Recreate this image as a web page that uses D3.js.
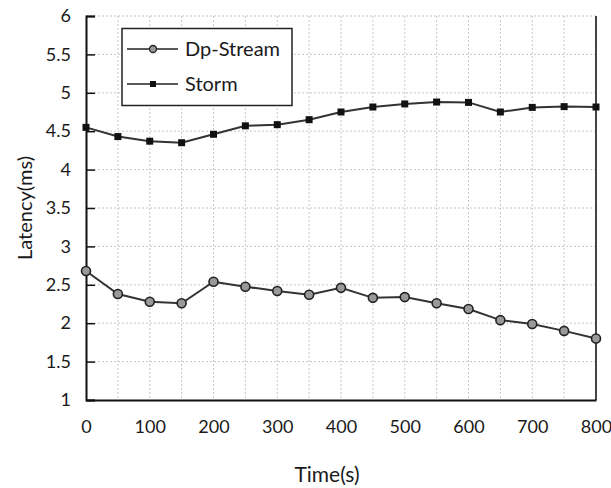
<!DOCTYPE html>
<html><head><meta charset="utf-8">
<script src="https://cdn.jsdelivr.net/npm/d3@7"></script>
<style>body{margin:0;background:#fff}svg{display:block}text{font-family:Lato,"Open Sans",sans-serif;fill:#1a1a1a}</style>
</head><body>
<script>
const times = [0,50,100,150,200,250,300,350,400,450,500,550,600,650,700,750,800];
const dpStream = [2.68,2.38,2.28,2.26,2.54,2.475,2.42,2.37,2.46,2.33,2.34,2.26,2.185,2.04,1.99,1.90,1.80];
const storm = [4.55,4.43,4.37,4.35,4.46,4.57,4.585,4.65,4.75,4.815,4.855,4.88,4.875,4.75,4.81,4.82,4.815];
const xTicks = [0,100,200,300,400,500,600,700,800];
const yTicks = [1,1.5,2,2.5,3,3.5,4,4.5,5,5.5,6];
const seriesNames = ["Dp-Stream","Storm"];

const W=611,H=488, L=86,R=596,T=16,B=400;
const svg=d3.select("body").append("svg").attr("width",W).attr("height",H);
const x=d3.scaleLinear().domain([0,800]).range([L,R]);
const y=d3.scaleLinear().domain([1,6]).range([B,T]);

// grid
const gx=d3.range(0,801,50), gy=d3.range(1,6.01,0.5);
svg.append("g").selectAll("line").data(gx.slice(1)).join("line")
 .attr("x1",d=>x(d)).attr("x2",d=>x(d)).attr("y1",T).attr("y2",B)
 .attr("stroke","#c8c8c8").attr("stroke-dasharray","2,2");
svg.append("g").selectAll("line").data(gy.slice(1)).join("line")
 .attr("x1",L).attr("x2",R).attr("y1",d=>y(d)).attr("y2",d=>y(d))
 .attr("stroke","#c8c8c8").attr("stroke-dasharray","2,2");

// right border
svg.append("line").attr("x1",R).attr("x2",R).attr("y1",T).attr("y2",B).attr("stroke","#444").attr("stroke-width",2);

// axes
const yAxis=d3.axisLeft(y).tickValues(yTicks).tickSize(-9).tickPadding(15).tickFormat(d3.format("~g"));
const gyA=svg.append("g").attr("transform",`translate(${L},0)`).call(yAxis);
gyA.select(".domain").attr("stroke","#111").attr("stroke-width",2);
gyA.selectAll(".tick line").attr("stroke","#111").attr("stroke-width",1.5);
gyA.selectAll(".tick text").style("font-size","18px").attr("fill","#1a1a1a");

const xAxis=d3.axisBottom(x).tickValues(xTicks).tickSize(0).tickPadding(20);
const gxA=svg.append("g").attr("transform",`translate(0,${B})`).call(xAxis);
gxA.select(".domain").attr("stroke","#111").attr("stroke-width",2);
gxA.selectAll(".tick text").style("font-size","18px").attr("fill","#1a1a1a");

// titles
svg.append("text").attr("x",327).attr("y",482).attr("text-anchor","middle").style("font-size","21px").text("Time(s)");
svg.append("text").attr("transform",`translate(32,${(T+B)/2}) rotate(-90)`).attr("text-anchor","middle").style("font-size","20px").text("Latency(ms)");

// lines
const line=d3.line().x((d,i)=>x(times[i])).y(d=>y(d));
[dpStream,storm].forEach(s=>{
 svg.append("path").datum(s).attr("d",line).attr("fill","none").attr("stroke","#333").attr("stroke-width",2);
});
svg.append("g").selectAll("circle").data(dpStream).join("circle")
 .attr("cx",(d,i)=>x(times[i])).attr("cy",d=>y(d)).attr("r",4.5)
 .attr("fill","#999").attr("stroke","#222").attr("stroke-width",1.6);
svg.append("g").selectAll("rect").data(storm).join("rect")
 .attr("x",(d,i)=>x(times[i])-3.5).attr("y",d=>y(d)-3.5).attr("width",7).attr("height",7)
 .attr("fill","#111");

// legend
const lg=svg.append("g");
lg.append("rect").attr("x",122).attr("y",28.5).attr("width",170).attr("height",77).attr("fill","#fff").attr("stroke","#222").attr("stroke-width",1.5);
const rows=[49,84];
seriesNames.forEach((n,i)=>{
 lg.append("line").attr("x1",127).attr("x2",178).attr("y1",rows[i]).attr("y2",rows[i]).attr("stroke","#222").attr("stroke-width",1.5);
 if(i===0) lg.append("circle").attr("cx",153).attr("cy",rows[i]).attr("r",3.5).attr("fill","#999").attr("stroke","#222").attr("stroke-width",1.3);
 else lg.append("rect").attr("x",150).attr("y",rows[i]-3).attr("width",6).attr("height",6).attr("fill","#111");
 lg.append("text").attr("x",185).attr("y",rows[i]).attr("dy","0.35em").style("font-size","20px").text(n);
});
</script>
</body></html>
